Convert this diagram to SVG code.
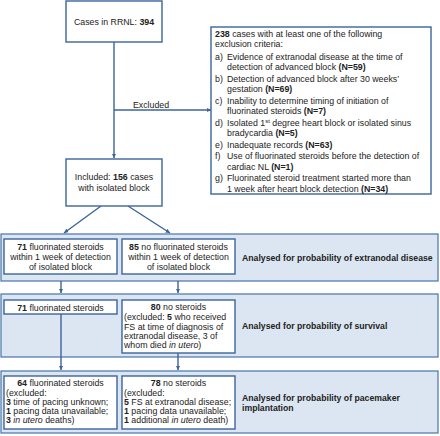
<svg xmlns="http://www.w3.org/2000/svg" width="440" height="436" viewBox="0 0 440 436">
<style>
text{font-family:"Liberation Sans",Arial,sans-serif;font-size:8.8px;fill:#222}
.b{font-weight:bold}
.c{text-anchor:middle}
.box{fill:#fff;stroke:#3b649b;stroke-width:1.4}
.panel{fill:#dce6f2;stroke:#4a73a8;stroke-width:1.2}
.ln{fill:none;stroke:#3b649b;stroke-width:1.4}
.hd{font-weight:bold;font-size:8.7px}
</style>
<defs>
<marker id="ah" viewBox="0 0 10 10" refX="10" refY="5" markerWidth="4.5" markerHeight="4.5" markerUnits="userSpaceOnUse" orient="auto">
<path d="M0,0 L10,5 L0,10 z" fill="#3b649b"/>
</marker>
</defs>
<g id="panels">
<rect id="panel1" class="panel" x="1" y="234" width="437" height="47"/>
<rect id="panel2" class="panel" x="1" y="294" width="437" height="63"/>
<rect id="panel3" class="panel" x="1" y="371" width="437" height="62"/>
</g>
<g id="connectors">
<line class="ln" x1="114" y1="42" x2="114" y2="158" marker-end="url(#ah)"/>
<line class="ln" x1="114" y1="110" x2="211" y2="110" marker-end="url(#ah)"/>
<line class="ln" x1="101" y1="206" x2="64" y2="233" marker-end="url(#ah)"/>
<line class="ln" x1="128" y1="206" x2="170" y2="233" marker-end="url(#ah)"/>
<line class="ln" x1="61" y1="281" x2="61" y2="293" marker-end="url(#ah)"/>
<line class="ln" x1="178" y1="281" x2="178" y2="293" marker-end="url(#ah)"/>
<line class="ln" x1="61" y1="314" x2="61" y2="370" marker-end="url(#ah)"/>
<line class="ln" x1="178" y1="353" x2="178" y2="370" marker-end="url(#ah)"/>
<text x="151" y="108" class="c">Excluded</text>
</g>
<g id="n-cases">
<rect class="box" x="66" y="1" width="96" height="41"/>
<text x="114" y="25" class="c">Cases in RRNL: <tspan class="b">394</tspan></text>
</g>
<g id="n-exclusion">
<rect class="box" x="211" y="27" width="220" height="167"/>
<text x="215" y="37"><tspan class="b">238</tspan> cases with at least one of the following</text>
<text x="215" y="47">exclusion criteria:</text>
<text x="215" y="60">a)</text><text x="227" y="60">Evidence of extranodal disease at the time of</text>
<text x="227" y="70">detection of advanced block <tspan class="b">(N=59)</tspan></text>
<text x="215" y="82">b)</text><text x="227" y="82">Detection of advanced block after 30 weeks’</text>
<text x="227" y="92">gestation <tspan class="b">(N=69)</tspan></text>
<text x="215" y="104">c)</text><text x="227" y="104">Inability to determine timing of initiation of</text>
<text x="227" y="114">fluorinated steroids <tspan class="b">(N=7)</tspan></text>
<text x="215" y="126">d)</text><text x="227" y="126">Isolated 1<tspan font-size="6" dy="-3">st</tspan><tspan dy="3"> degree heart block or isolated sinus</tspan></text>
<text x="227" y="136">bradycardia <tspan class="b">(N=5)</tspan></text>
<text x="215" y="148">e)</text><text x="227" y="148">Inadequate records <tspan class="b">(N=63)</tspan></text>
<text x="215" y="159">f)</text><text x="227" y="159">Use of fluorinated steroids before the detection of</text>
<text x="227" y="170">cardiac NL <tspan class="b">(N=1)</tspan></text>
<text x="215" y="181">g)</text><text x="227" y="181">Fluorinated steroid treatment started more than</text>
<text x="227" y="192">1 week after heart block detection <tspan class="b">(N=34)</tspan></text>
</g>
<g id="n-included">
<rect class="box" x="66" y="159" width="96" height="47"/>
<text x="114" y="180" class="c">Included: <tspan class="b">156</tspan> cases</text>
<text x="114" y="191" class="c">with isolated block</text>
</g>
<g id="n-fs1">
<rect class="box" x="4" y="239" width="113" height="35"/>
<text x="60.5" y="250" class="c"><tspan class="b">71</tspan> fluorinated steroids</text>
<text x="60.5" y="260" class="c">within 1 week of detection</text>
<text x="60.5" y="270" class="c">of isolated block</text>
</g>
<g id="n-nofs1">
<rect class="box" x="122" y="239" width="113" height="35"/>
<text x="178.5" y="250" class="c"><tspan class="b">85</tspan> no fluorinated steroids</text>
<text x="178.5" y="260" class="c">within 1 week of detection</text>
<text x="178.5" y="270" class="c">of isolated block</text>
</g>
<text id="l-extranodal" x="242" y="261" class="hd">Analysed for probability of extranodal disease</text>
<g id="n-fs2">
<rect class="box" x="4" y="300" width="113" height="14"/>
<text x="60.5" y="311" class="c"><tspan class="b">71</tspan>  fluorinated steroids</text>
</g>
<g id="n-nofs2">
<rect class="box" x="122" y="300" width="113" height="53"/>
<text x="178.5" y="310" class="c"><tspan class="b">80</tspan> no steroids</text>
<text x="124" y="320">(excluded: <tspan class="b">5</tspan> who received</text>
<text x="124" y="330">FS at time of diagnosis of</text>
<text x="124" y="339">extranodal disease, 3 of</text>
<text x="124" y="348">whom died <tspan font-style="italic">in utero</tspan>)</text>
</g>
<text id="l-survival" x="242" y="329" class="hd">Analysed for probability of survival</text>
<g id="n-fs3">
<rect class="box" x="4" y="376" width="113" height="53"/>
<text x="60.5" y="386" class="c"><tspan class="b">64</tspan>  fluorinated steroids</text>
<text x="6" y="396">(excluded:</text>
<text x="6" y="405"><tspan class="b">3</tspan> time of pacing unknown;</text>
<text x="6" y="414"><tspan class="b">1</tspan> pacing data unavailable;</text>
<text x="6" y="423"><tspan class="b">3</tspan> <tspan font-style="italic">in utero</tspan> deaths)</text>
</g>
<g id="n-nofs3">
<rect class="box" x="122" y="376" width="113" height="53"/>
<text x="178.5" y="386" class="c"><tspan class="b">78</tspan> no steroids</text>
<text x="124" y="396">(excluded:</text>
<text x="124" y="405"><tspan class="b">5</tspan> FS at extranodal disease;</text>
<text x="124" y="414"><tspan class="b">1</tspan> pacing data unavailable;</text>
<text x="124" y="423"><tspan class="b">1</tspan> additional <tspan font-style="italic">in utero</tspan> death)</text>
</g>
<g id="l-pacemaker">
<text x="242" y="401" class="hd">Analysed for probability of pacemaker</text>
<text x="242" y="411" class="hd">implantation</text>
</g>
</svg>
